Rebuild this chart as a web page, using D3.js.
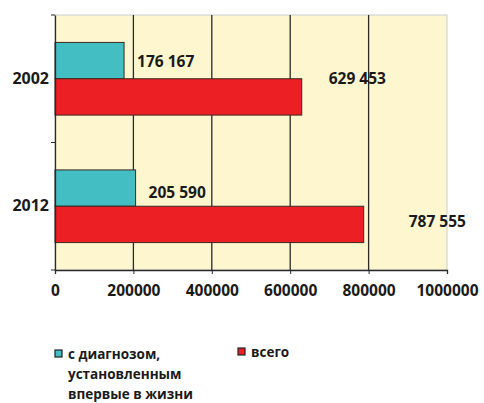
<!DOCTYPE html>
<html>
<head>
<meta charset="utf-8">
<script src="https://cdn.jsdelivr.net/npm/d3@7"></script>
<style>
  body { margin: 0; background: #fff; }
  text { font-family: "Open Sans", sans-serif; font-weight: bold; fill: #1a1a1a; }
</style>
</head>
<body>
<script>
//chart data
var years = ["2002", "2012"];
var firstTime = [176167, 205590];   //с диагнозом, установленным впервые в жизни
var total = [629453, 787555];       //всего
var labelText = [["176 167", "629 453"], ["205 590", "787 555"]];
var xTicks = [0, 200000, 400000, 600000, 800000, 1000000];
var seriesNames = ["с диагнозом, установленным впервые в жизни", "всего"];

//label nudges as in the original picture (dx, dy from bar end / bar middle)
var labelNudge = [[[13, 1], [27, -18]], [[13, 4], [45, -3]]];

window.onload = drawChart();

function drawChart(){
    var width = 484, height = 403;
    var left = 55, right = 447, top = 15, bottom = 270;

    var svg = d3.select("body").append("svg")
        .attr("width", width)
        .attr("height", height);

    var x = d3.scaleLinear().domain([0, 1000000]).range([left, right]);
    var y = d3.scaleBand().domain(years).range([top, bottom]).paddingInner(0.43).paddingOuter(0.215);
    var sub = d3.scaleBand().domain([0, 1]).range([0, y.bandwidth()]);

    //plot background
    svg.append("rect")
        .attr("x", left).attr("y", top)
        .attr("width", right - left).attr("height", bottom - top)
        .attr("fill", "#fef6cf")
        .attr("stroke", "#c9cdd2").attr("stroke-width", 1);

    //gridlines
    svg.selectAll(".grid")
        .data(xTicks.slice(1, -1))
        .enter().append("line")
        .attr("x1", function(d){ return x(d); })
        .attr("x2", function(d){ return x(d); })
        .attr("y1", top).attr("y2", bottom)
        .attr("stroke", "#2a2a2a").attr("stroke-width", 1.3);

    //bars
    var colors = ["#43bfc3", "#ec1f24"];
    var series = [firstTime, total];
    series.forEach(function(vals, s){
        svg.selectAll(".bar" + s)
            .data(vals)
            .enter().append("rect")
            .attr("x", x(0))
            .attr("y", function(d, i){ return y(years[i]) + sub(s); })
            .attr("width", function(d){ return x(d) - x(0); })
            .attr("height", sub.bandwidth())
            .attr("fill", colors[s])
            .attr("stroke", "#3a2a20").attr("stroke-width", 1);
    });

    //value labels
    series.forEach(function(vals, s){
        svg.selectAll(".lab" + s)
            .data(vals)
            .enter().append("text")
            .attr("x", function(d, i){ return x(d) + labelNudge[i][s][0]; })
            .attr("y", function(d, i){ return y(years[i]) + sub(s) + sub.bandwidth() / 2 + labelNudge[i][s][1]; })
            .attr("dy", "0.35em")
            .style("font-size", "15.5px")
            .text(function(d, i){ return labelText[i][s]; });
    });

    //x axis
    var xAxis = d3.axisBottom(x).tickValues(xTicks).tickFormat(d3.format("d")).tickSize(4).tickPadding(11);
    var gx = svg.append("g").attr("transform", "translate(0," + bottom + ")").call(xAxis);
    gx.select(".domain").attr("stroke", "#2a2a2a").attr("stroke-width", 1.3);
    gx.selectAll(".tick line").attr("stroke", "#2a2a2a");
    gx.selectAll("text").style("font-size", "15.5px").attr("fill", "#1a1a1a");

    //y axis
    var yAxis = d3.axisLeft(y).tickSize(0).tickPadding(6);
    var gy = svg.append("g").attr("transform", "translate(" + left + ",0)").call(yAxis);
    gy.select(".domain").attr("stroke", "#2a2a2a").attr("stroke-width", 1.3);
    gy.selectAll("text").style("font-size", "16px").attr("fill", "#1a1a1a");
    //category separator ticks
    var seps = [top, (y(years[0]) + y.bandwidth() + y(years[1])) / 2, bottom];
    gy.selectAll(".sep").data(seps).enter().append("line")
        .attr("x1", -4).attr("x2", 0)
        .attr("y1", function(d){ return d; }).attr("y2", function(d){ return d; })
        .attr("stroke", "#2a2a2a");

    //legend
    var legend = [
        {x: 55, y: 350, lines: ["с диагнозом,", "установленным", "впервые в жизни"]},
        {x: 238, y: 348, lines: ["всего"]}
    ];
    legend.forEach(function(l, i){
        svg.append("rect")
            .attr("x", l.x).attr("y", l.y)
            .attr("width", 7).attr("height", 7)
            .attr("fill", colors[i]).attr("stroke", "#222").attr("stroke-width", 1.2);
        svg.append("text")
            .attr("x", l.x + 13).attr("y", l.y + 4)
            .style("font-size", "13.5px")
            .selectAll("tspan").data(l.lines).enter().append("tspan")
            .attr("x", l.x + 13)
            .attr("dy", function(d, j){ return j === 0 ? "0.35em" : "20px"; })
            .text(function(d){ return d; });
    });
};
</script>
</body>
</html>
